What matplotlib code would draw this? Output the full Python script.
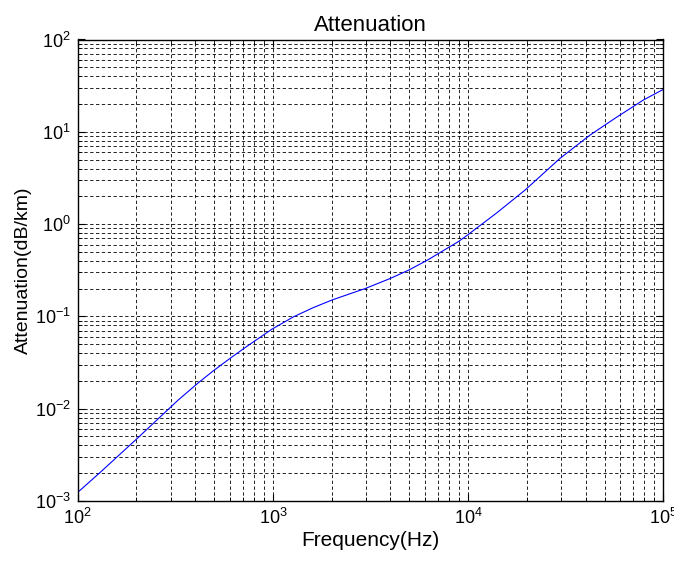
import matplotlib
matplotlib.use('Agg')
import matplotlib.pyplot as plt

# values
freq_hz = [100, 130, 200, 327, 415, 495, 603, 735, 986, 1274, 1611, 2000,
           2483, 2965, 3981, 4943, 6138, 8913, 9840, 14000, 19590, 29580,
           42170, 57680, 79070, 100000]
atten_db_km = [0.00124, 0.00203, 0.00468, 0.0124, 0.0191, 0.0257, 0.0351,
               0.0473, 0.0724, 0.0989, 0.1245, 0.150, 0.176, 0.200, 0.257,
               0.316, 0.403, 0.646, 0.75, 1.32, 2.34, 5.16, 9.23, 14.4,
               22.1, 28.8]

plt.rcParams['font.family'] = ['Liberation Sans', 'DejaVu Sans']
plt.rcParams['mathtext.fontset'] = 'custom'
plt.rcParams['mathtext.rm'] = 'Liberation Sans'
plt.rcParams['mathtext.it'] = 'Liberation Sans'

fig = plt.figure(figsize=(6.74, 5.62), dpi=100)
ax = fig.add_axes([77.7 / 674, (562 - 501) / 562, (663.3 - 77.7) / 674, (501 - 39.5) / 562])

ax.loglog(freq_hz, atten_db_km, color='#0000ff', linewidth=0.8)
ax.set_xlim(1e2, 1e5)
ax.set_ylim(1e-3, 1e2)

ax.grid(True, which='both', color='black', linestyle=(0, (4, 3)), linewidth=0.6)
ax.tick_params(which='both', direction='in', top=True, right=True, labelsize=13, color='black')
ax.tick_params(which='major', length=5, pad=5)
ax.tick_params(which='minor', length=3)
for s in ax.spines.values():
    s.set_linewidth(1.0)

ax.set_title('Attenuation', fontsize=16, pad=6)
ax.set_xlabel('Frequency(Hz)', fontsize=15, labelpad=2)
ax.set_ylabel('Attenuation(dB/km)', fontsize=14, labelpad=2)

fig.savefig('out.png', dpi=100)
